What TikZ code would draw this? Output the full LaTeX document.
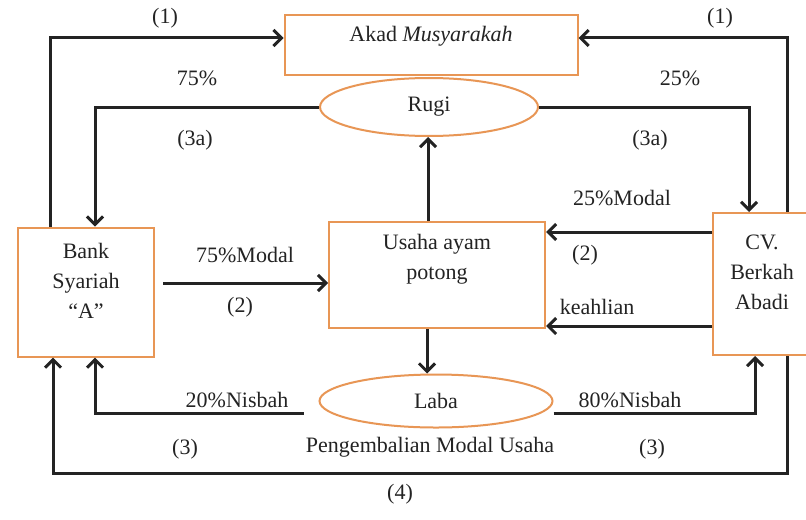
\documentclass[tikz,border=0pt]{standalone}
\usepackage{fontspec}
\setmainfont{Liberation Serif}
\usetikzlibrary{arrows.meta,shapes.geometric}
\definecolor{boxorange}{RGB}{232,150,85}
\definecolor{ink}{RGB}{35,35,35}
\tikzset{
  box/.style={draw=boxorange,line width=1pt,fill=white,inner sep=0pt},
  oval/.style={ellipse,draw=boxorange,line width=1pt,fill=white,inner sep=0pt,text=ink,font=\fontsize{11}{15}\selectfont},
  txt/.style={text=ink,font=\fontsize{11}{15}\selectfont,align=center,inner sep=1pt},
  arr/.style={line width=1.5pt,draw=ink,-{Straight Barb[length=4pt,width=8pt]}},
}
\begin{document}
\begin{tikzpicture}[x=0.5pt,y=-0.5pt]
  \fill[white] (0,0) rectangle (806,519);
  \useasboundingbox (0,0) rectangle (806,519);
  \clip (0,0) rectangle (806,519);
  % kotak dan elips
  \node[box,minimum width=146.5pt,minimum height=30pt] (akad) at (431,45) {};
  \node[oval,minimum width=109pt,minimum height=29pt] (rugi) at (429,107) {Rugi};
  \node[box,minimum width=68pt,minimum height=64.5pt] (bank) at (86,292) {};
  \node[box,minimum width=108pt,minimum height=53pt] (usaha) at (437,275) {};
  \node[box,minimum width=49pt,minimum height=71pt] (cv) at (762,284) {};
  \node[oval,minimum width=116.5pt,minimum height=26.5pt] (laba) at (436,401) {Laba};
  % isi kotak
  \node[txt] (akadt) at (431,36) {Akad \textit{Musyarakah}};
  \node[txt] (bankt) at (86,281) {Bank\\Syariah\\“A”};
  \node[txt] (usahat) at (437,259) {Usaha ayam\\potong};
  \node[txt] (cvt) at (762,272) {CV.\\Berkah\\Abadi};
  % (1) akad
  \draw[arr] ([xshift=-18pt]bank.north) |- ([yshift=3.5pt]akad.west);
  \draw[arr] ([xshift=12.5pt]cv.north) |- ([yshift=3.5pt]akad.east);
  % (3a) rugi
  \draw[arr] (rugi.west) -| ([xshift=4.5pt]bank.north);
  \draw[arr] (rugi.east) -| ([xshift=-6.5pt]cv.north);
  \draw[arr] ([xshift=-4.5pt]usaha.north) -- ([xshift=-4.5pt]usaha.north |- rugi.south);
  % (2) modal
  \draw[arr] ([xshift=4pt,yshift=4.5pt]bank.east) -- ([yshift=-4pt]usaha.west);
  \draw[arr] ([yshift=26pt]cv.west) -- ([yshift=21.5pt]usaha.east);
  \draw[arr] ([yshift=-21pt]cv.west) -- ([yshift=-25.5pt]usaha.east);
  % (3) laba
  \draw[arr] ([xshift=-5pt]usaha.south) -- ([xshift=-5pt]usaha.south |- laba.north);
  \draw[arr] ([xshift=-7.5pt,yshift=-6pt]laba.west) -| ([xshift=4.5pt]bank.south);
  \draw[arr] ([yshift=-6pt]laba.east) -| ([xshift=-3.5pt]cv.south);
  % (4) pengembalian
  \draw[arr] ([xshift=12.5pt]cv.south) -- ++(0,117) -| ([xshift=-16.5pt]bank.south);
  % label
  \node[txt] (n1a) at (165,18) {(1)};
  \node[txt] (n1b) at (720,18) {(1)};
  \node[txt] (p75) at (197,78) {75\%};
  \node[txt] (p25) at (680,78) {25\%};
  \node[txt] (n3aa) at (195,140) {(3a)};
  \node[txt] (n3ab) at (650,140) {(3a)};
  \node[txt] (m75) at (245,255) {75\%Modal};
  \node[txt] (n2a) at (240,307) {(2)};
  \node[txt] (m25) at (622,198) {25\%Modal};
  \node[txt] (n2b) at (585,255) {(2)};
  \node[txt] (keahlian) at (597,307) {keahlian};
  \node[txt] (nb20) at (237,400) {20\%Nisbah};
  \node[txt] (nb80) at (630,400) {80\%Nisbah};
  \node[txt] (kembali) at (430,447) {Pengembalian Modal Usaha};
  \node[txt] (n3a) at (185,449) {(3)};
  \node[txt] (n3b) at (652,449) {(3)};
  \node[txt] (n4) at (400,494) {(4)};
\end{tikzpicture}
\end{document}
